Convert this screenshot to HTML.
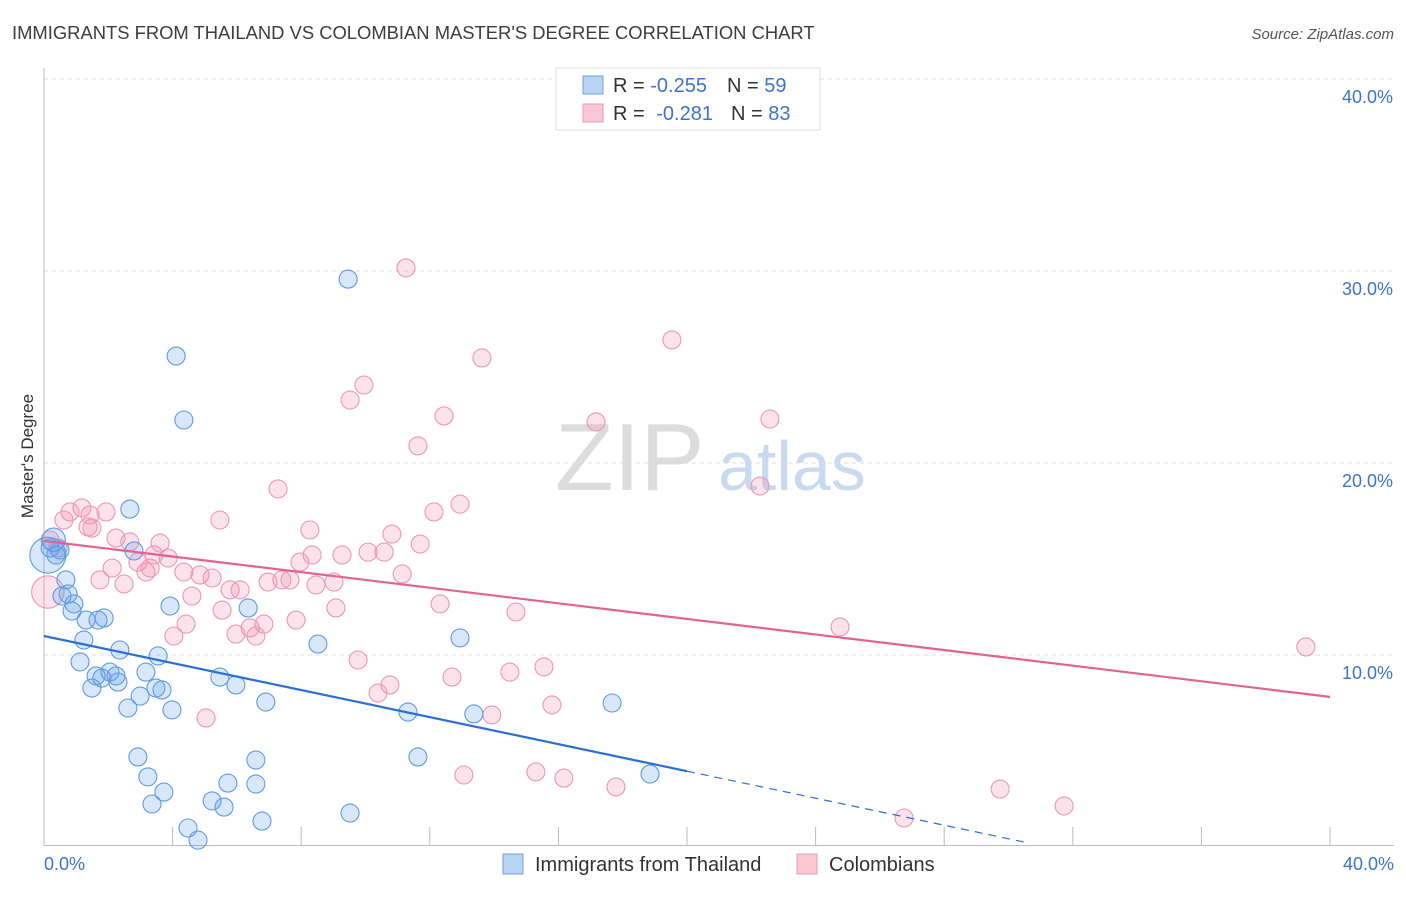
<!DOCTYPE html>
<html><head><meta charset="utf-8"><style>
body{margin:0;background:#fff;font-family:"Liberation Sans",sans-serif;}
svg text{font-family:"Liberation Sans",sans-serif;}
</style></head><body>
<svg id="chart" width="1406" height="892" viewBox="0 0 1406 892">
<text x="12" y="39" font-size="18.4" fill="#3d3d3d">IMMIGRANTS FROM THAILAND VS COLOMBIAN MASTER'S DEGREE CORRELATION CHART</text>
<text x="1394" y="39" font-size="15" fill="#555" text-anchor="end" font-style="italic">Source: ZipAtlas.com</text>
<g>
<text x="555" y="490" font-size="96" fill="#dcdcdc" font-family="Liberation Serif, serif">ZIP</text>
<text x="718" y="490" font-size="70" fill="#c8daf0">atlas</text>
</g>
<g id="grid"></g>
<g id="axes"></g>
<g id="marks"></g>
<text transform="translate(33,456) rotate(-90)" font-size="17" fill="#333" text-anchor="middle">Master's Degree</text>
<text x="44" y="870" font-size="18" fill="#3d74cf">0.0%</text>
<text x="1394" y="870" font-size="18" fill="#3d74cf" text-anchor="end">40.0%</text>
<g>
<rect x="556" y="68" width="264" height="62" fill="#fff" stroke="#ddd"/>
<rect x="583" y="76" width="20" height="18" fill="#b9d3f3" stroke="#6ea0e0"/>
<rect x="583" y="104" width="20" height="18" fill="#f9c6d6" stroke="#eb9ab6"/>
<text x="613" y="92" font-size="20" fill="#333">R = <tspan fill="#3d74cf">-0.255</tspan><tspan dx="20">N = </tspan><tspan fill="#3d74cf">59</tspan></text>
<text x="613" y="120" font-size="20" fill="#333">R = <tspan fill="#3d74cf" dx="6">-0.281</tspan><tspan dx="18">N = </tspan><tspan fill="#3d74cf">83</tspan></text>
</g>
<g>
<rect x="503" y="854" width="20" height="20" fill="#b9d3f3" stroke="#6ea0e0"/>
<text x="535" y="871" font-size="20" fill="#333">Immigrants from Thailand</text>
<rect x="797" y="854" width="20" height="20" fill="#f9c6d6" stroke="#eb9ab6"/>
<text x="829" y="871" font-size="20" fill="#333">Colombians</text>
</g>
</svg>
<script>
const yTicks=[10,20,30,40];
const yTickLabels=["10.0%","20.0%","30.0%","40.0%"];
const xTicks=[0,4,8,12,16,20,24,28,32,36,40];
const blueX=[0.19,0.37,0.50,0.68,0.75,0.93,0.56,0.87,1.31,1.68,1.87,1.24,1.12,2.36,2.05,2.24,1.80,2.30,1.49,1.62,2.67,2.80,3.17,3.55,3.48,3.67,2.99,2.61,3.98,3.92,4.11,4.35,2.92,3.23,3.36,3.73,4.48,4.79,5.23,5.60,5.72,5.47,5.97,6.35,6.59,6.59,6.78,6.90,8.52,9.46,9.52,11.32,11.63,12.94,13.37,17.67,18.85,0.12,0.3];
const blueY=[15.57,15.21,15.47,13.91,13.18,12.66,13.07,12.29,11.82,11.82,11.93,10.78,9.64,10.26,9.11,8.91,8.80,8.59,8.28,8.91,17.60,15.42,9.11,9.95,8.28,8.18,7.86,7.24,7.14,12.55,25.57,22.24,4.69,3.65,2.24,2.86,0.99,0.36,2.40,2.08,3.33,8.85,8.44,12.45,4.53,3.28,1.35,7.55,10.57,29.58,1.77,7.03,4.69,10.89,6.93,7.50,3.80,15.2,16.0];
const blueSize=[1,1,1,1,1,1,1,1,1,1,1,1,1,1,1,1,1,1,1,1,1,1,1,1,1,1,1,1,1,1,1,1,1,1,1,1,1,1,1,1,1,1,1,1,1,1,1,1,1,1,1,1,1,1,1,1,1,2,1.3];
const pinkX=[0.12,0.19,0.44,0.62,0.81,1.18,1.43,1.37,1.49,1.93,2.24,1.74,2.12,2.49,2.67,2.92,3.17,3.30,3.42,3.61,3.86,4.04,4.35,4.42,4.60,4.85,5.04,5.23,5.47,5.54,5.79,5.97,6.10,6.41,6.59,6.84,6.97,7.28,7.40,7.65,7.84,7.96,8.27,8.34,8.46,9.02,9.08,9.27,9.52,9.95,9.77,10.08,10.39,10.58,10.76,10.82,11.14,11.26,11.63,11.70,12.13,12.32,12.44,12.69,12.94,13.06,13.62,13.93,14.49,14.68,15.30,15.55,15.80,16.17,17.17,17.79,19.53,22.27,22.58,24.76,26.75,29.74,31.73,39.25];
const pinkY=[13.28,15.99,15.57,17.03,17.45,17.66,17.29,16.67,16.61,17.45,16.09,13.91,14.53,13.70,15.89,14.84,14.32,14.53,15.21,15.83,15.05,10.99,14.32,11.61,13.07,14.17,6.72,14.01,17.03,12.34,13.39,11.09,13.39,11.41,10.99,11.61,13.80,18.65,13.91,13.91,11.82,14.84,16.51,15.21,13.65,13.80,12.45,15.21,23.28,24.06,9.74,15.36,8.02,15.36,8.44,16.30,14.22,30.16,20.89,15.78,17.45,12.66,22.45,8.85,17.86,3.75,25.47,6.88,9.11,12.24,3.91,9.38,7.40,3.59,22.14,3.13,26.41,18.80,22.29,11.46,1.51,3.02,2.14,10.42];
const blueTrend=[10.99,-0.352];
const pinkTrend=[15.94,-0.203];
const NS="http://www.w3.org/2000/svg";
const X0=44,X1=1330,Y0=847,Y40=79;
function sx(v){return X0+(X1-X0)*v/40;}
function sy(v){return Y0-(Y0-Y40)*v/40;}
function mk(tag,attrs,parent){const e=document.createElementNS(NS,tag);for(const k in attrs)e.setAttribute(k,attrs[k]);parent.appendChild(e);return e;}
const grid=document.getElementById('grid'),axes=document.getElementById('axes'),marks=document.getElementById('marks');
yTicks.forEach((t,i)=>{
 const l=mk('line',{x1:X0,x2:1394,y1:sy(t),y2:sy(t),stroke:'#dcdcdc','stroke-dasharray':'4,4'},grid);
 
 
 const tx=mk('text',{x:1393,y:sy(t)+24,'font-size':18,fill:'#3d74cf','text-anchor':'end'},grid);
 tx.textContent=yTickLabels[i];
 
 
});
const ya=mk('line',{x1:X0,x2:X0,y1:68,y2:846,stroke:'#bbb'},axes);


const xa=mk('line',{x1:X0,x2:1394,y1:845.5,y2:845.5,stroke:'#bbb'},axes);


xTicks.forEach(t=>{
 const l=mk('line',{x1:sx(t),x2:sx(t),y1:827,y2:846,stroke:'#bbb'},axes);
 
 
});
function pts(xs,ys,sz,fill,stroke,name){
 xs.forEach((x,i)=>{
  const c=mk('circle',{cx:sx(x),cy:sy(ys[i]),r:9*(sz?sz[i]:1),fill:fill,stroke:stroke,'stroke-width':1.1},marks);
  
  
 });
}
pts(pinkX,pinkY,pinkX.map((x,i)=>i===0?1.8:1),'rgba(240,140,175,0.25)','#eb98b5','point-colombians');
pts(blueX,blueY,blueSize,'rgba(100,160,230,0.25)','#5f9be0','point-thailand');
const bEnd=20,bZero=30.5;
const b1=mk('line',{x1:sx(0),y1:sy(blueTrend[0]),x2:sx(bEnd),y2:sy(blueTrend[0]+blueTrend[1]*bEnd),stroke:'#2a6fd6','stroke-width':2.2},marks);


const b2=mk('line',{x1:sx(bEnd),y1:sy(blueTrend[0]+blueTrend[1]*bEnd),x2:sx(bZero),y2:sy(blueTrend[0]+blueTrend[1]*bZero),stroke:'#2a6fd6','stroke-width':1.2,'stroke-dasharray':'8,6'},marks);


const p1=mk('line',{x1:sx(0),y1:sy(pinkTrend[0]),x2:sx(40),y2:sy(pinkTrend[0]+pinkTrend[1]*40),stroke:'#e4628f','stroke-width':2.2},marks);


</script>
</body></html>
